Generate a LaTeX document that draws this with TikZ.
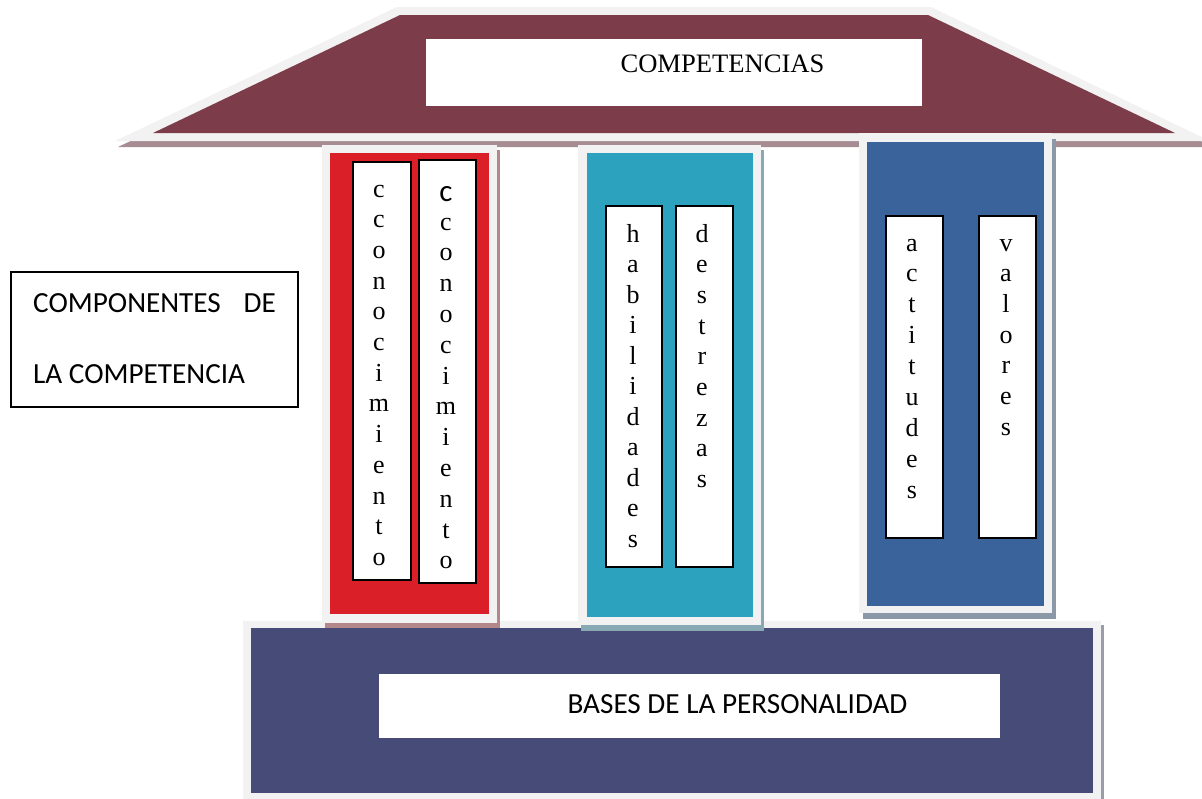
\documentclass[tikz,border=0pt]{standalone}
\usepackage{fontspec}
\setmainfont{Liberation Serif}
\newfontfamily\calib{Carlito}
\definecolor{roofc}{HTML}{7D3C4A}
\definecolor{halo}{HTML}{F2F2F2}
\definecolor{roofsh}{HTML}{A68C93}
\definecolor{redc}{HTML}{DB1F29}
\definecolor{redsh}{HTML}{B3878A}
\definecolor{tealc}{HTML}{2DA2BF}
\definecolor{tealsh}{HTML}{88A9B4}
\definecolor{bluec}{HTML}{3A639B}
\definecolor{bluesh}{HTML}{8C97A8}
\definecolor{navyc}{HTML}{474B77}
\definecolor{navysh}{HTML}{9A9CA8}
\begin{document}
\begin{tikzpicture}[x=1pt,y=-1pt,
  wbox/.style={draw=black, line width=1.8pt, fill=white, inner sep=0pt},
  plainbox/.style={fill=white, inner sep=0pt},
  letter/.style={inner sep=0pt, anchor=base, font=\fontsize{26}{30}\selectfont},
  serifbig/.style={inner sep=0pt, anchor=base, font=\fontsize{26.6}{30}\selectfont},
  sanstxt/.style={inner sep=0pt, font=\calib\fontsize{29.2}{34}\selectfont}]
\useasboundingbox (0,0) rectangle (1202,798);
% roof
\fill[roofsh] (400,13) -- (934,13) -- (1213,147) -- (118,147) -- cycle;
\fill[halo] (397,7) -- (931,7) -- (1210,141) -- (115,141) -- cycle;
\fill[roofc] (400,15) -- (928,15) -- (1175,133) -- (153,133) -- cycle;
\node[plainbox, minimum width=496pt, minimum height=67pt] (compbox) at (674,72.5) {};
\node[serifbig, anchor=base] (comptext) at (722.5,72) {COMPETENCIAS};
% base
\fill[navysh] (246,625) rectangle (1104,805);
\fill[halo] (243,621) rectangle (1101,805);
\fill[navyc] (251,628) rectangle (1093,793);
\node[plainbox, minimum width=621pt, minimum height=64pt] (basebox) at (689.5,706) {};
\node[sanstxt, anchor=base] (basetext) at (737.5,713) {BASES DE LA PERSONALIDAD};
% red column
\fill[redsh] (325,150) rectangle (500,628);
\fill[halo] (322,145) rectangle (497,623);
\fill[redc] (330,153) rectangle (489,614);
% teal column
\fill[tealsh] (581,150) rectangle (764,631);
\fill[halo] (578,145) rectangle (761,625);
\fill[tealc] (587,153) rectangle (753,617);
% blue column
\fill[bluesh] (863,139) rectangle (1056,619);
\fill[halo] (859,133) rectangle (1052,613);
\fill[bluec] (867,142) rectangle (1044,606);
% inner boxes
\node[wbox, minimum width=58pt, minimum height=418pt] (kbox1) at (382,371) {};
\node[wbox, minimum width=57pt, minimum height=423pt] (kbox2) at (447.5,371.5) {};
\node[wbox, minimum width=56pt, minimum height=361pt] (hbox) at (634,386.5) {};
\node[wbox, minimum width=57pt, minimum height=361pt] (dbox) at (704.5,386.5) {};
\node[wbox, minimum width=57pt, minimum height=322pt] (abox) at (914.5,377) {};
\node[wbox, minimum width=57pt, minimum height=322pt] (vbox) at (1007.5,377) {};
% letters
\foreach \l [count=\i from 0] in {c,c,o,n,o,c,i,m,i,e,n,t,o}
  \node[letter] (ka-\i) at (379,{197+\i*30.7}) {\l};
\node[inner sep=0pt, anchor=base, font=\calib\fontsize{31}{34}\selectfont] (kb-0) at (446,201) {c};
\foreach \l [count=\i from 1] in {c,o,n,o,c,i,m,i,e,n,t,o}
  \node[letter] (kb-\i) at (446,{230+(\i-1)*30.8}) {\l};
\foreach \l [count=\i from 0] in {h,a,b,i,l,i,d,a,d,e,s}
  \node[letter] (hl-\i) at (633,{242+\i*30.5}) {\l};
\foreach \l [count=\i from 0] in {d,e,s,t,r,e,z,a,s}
  \node[letter] (dl-\i) at (702,{242+\i*30.7}) {\l};
\foreach \l [count=\i from 0] in {a,c,t,i,t,u,d,e,s}
  \node[letter] (al-\i) at (912,{251+\i*30.9}) {\l};
\foreach \l [count=\i from 0] in {v,a,l,o,r,e,s}
  \node[letter] (vl-\i) at (1006,{251+\i*30.7}) {\l};
% components box
\node[draw=black, line width=1.2pt, fill=white, inner sep=0pt, minimum width=287pt, minimum height=135pt] (cbox) at (154.5,339.5) {};
\node[sanstxt, anchor=base west] (c1a) at (33,312) {COMPONENTES};
\node[sanstxt, anchor=base east] (c1b) at (276,312) {DE};
\node[sanstxt, anchor=base west] (c2) at (33,383) {LA COMPETENCIA};
\end{tikzpicture}
\end{document}
